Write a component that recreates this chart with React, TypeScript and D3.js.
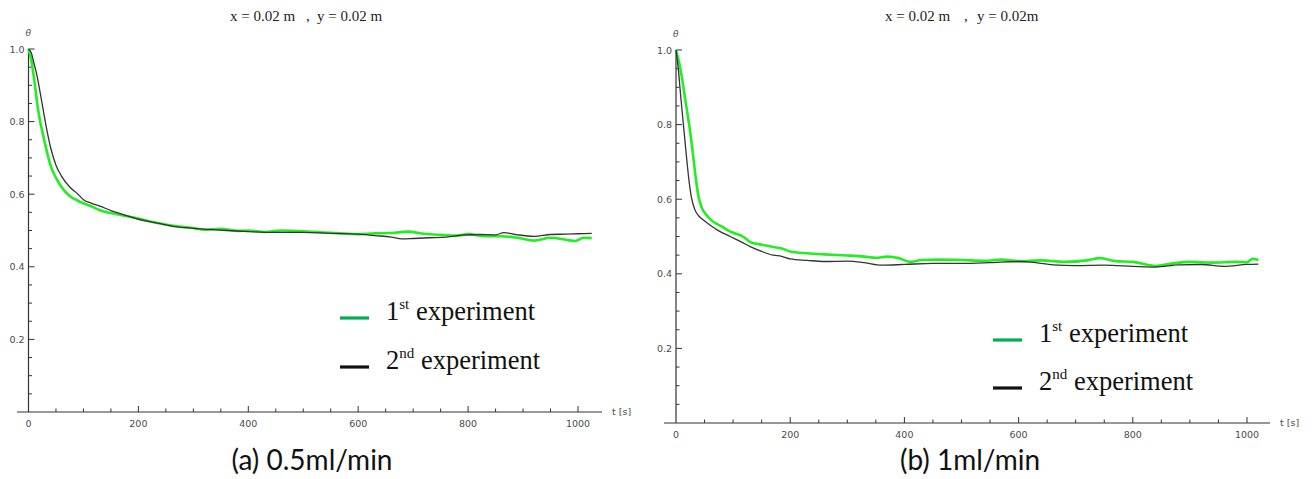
import React, { useEffect, useRef } from "react";
import * as d3 from "d3";

// time samples [s] and dimensionless temperature θ
const leftT1 = [0, 5, 10, 15, 20, 27, 33, 40, 50, 60, 75, 90, 100, 115, 130, 150, 170, 200, 230, 260, 300, 320, 350, 380, 400, 430, 460, 500, 530, 560, 600, 630, 660, 690, 720, 750, 780, 800, 830, 860, 890, 920, 950, 980, 995, 1010, 1025];
const leftV1 = [1.0, 0.97, 0.92, 0.86, 0.81, 0.76, 0.72, 0.68, 0.645, 0.62, 0.595, 0.582, 0.575, 0.566, 0.556, 0.548, 0.542, 0.533, 0.522, 0.514, 0.507, 0.502, 0.505, 0.499, 0.5, 0.496, 0.5, 0.498, 0.495, 0.493, 0.49, 0.492, 0.493, 0.497, 0.491, 0.488, 0.486, 0.49, 0.484, 0.484, 0.48, 0.472, 0.48, 0.474, 0.471, 0.48, 0.479];
const leftT2 = [0, 5, 10, 15, 20, 27, 33, 40, 50, 60, 75, 90, 100, 115, 130, 150, 170, 200, 230, 260, 300, 330, 360, 400, 450, 500, 550, 600, 630, 660, 680, 700, 730, 760, 790, 820, 850, 865, 890, 920, 950, 980, 1000, 1025];
const leftV2 = [1.0, 0.99, 0.96, 0.93, 0.89, 0.83, 0.78, 0.73, 0.68, 0.65, 0.62, 0.6, 0.585, 0.575, 0.567, 0.555, 0.545, 0.531, 0.522, 0.512, 0.506, 0.503, 0.5, 0.497, 0.495, 0.495, 0.492, 0.49, 0.486, 0.482, 0.477, 0.478, 0.48, 0.482, 0.487, 0.489, 0.488, 0.494, 0.488, 0.484, 0.489, 0.49, 0.491, 0.492];

const rightT1 = [0, 5, 10, 15, 20, 24, 29, 34, 39, 45, 52, 60, 70, 80, 90, 100, 117, 130, 150, 170, 185, 200, 230, 260, 300, 330, 350, 370, 390, 410, 430, 460, 500, 540, 570, 600, 640, 680, 720, 742, 770, 800, 840, 870, 900, 940, 980, 1000, 1010, 1020];
const rightV1 = [1.0, 0.97, 0.93, 0.88, 0.83, 0.79, 0.73, 0.665, 0.61, 0.578, 0.56, 0.546, 0.535, 0.527, 0.517, 0.51, 0.5, 0.485, 0.478, 0.472, 0.468, 0.46, 0.455, 0.452, 0.449, 0.446, 0.443, 0.446, 0.442, 0.432, 0.437, 0.438, 0.437, 0.435, 0.438, 0.434, 0.436, 0.432, 0.436, 0.442, 0.434, 0.432, 0.421, 0.428, 0.432, 0.43, 0.432, 0.431, 0.44, 0.437];
const rightT2 = [0, 4, 8, 13, 18, 22, 27, 33, 40, 48, 60, 75, 95, 115, 130, 150, 170, 185, 200, 230, 260, 300, 330, 360, 400, 450, 500, 550, 600, 630, 660, 700, 750, 800, 840, 880, 920, 960, 1000, 1020];
const rightV2 = [1.0, 0.95, 0.88, 0.8, 0.72, 0.66, 0.605, 0.572, 0.555, 0.544, 0.53, 0.515, 0.5, 0.485, 0.473, 0.46, 0.45, 0.447, 0.44, 0.436, 0.433, 0.434, 0.43, 0.423, 0.425, 0.428, 0.428, 0.43, 0.433, 0.43, 0.424, 0.422, 0.423, 0.42, 0.418, 0.424, 0.425, 0.42, 0.425, 0.426];

const xTicks = [0, 200, 400, 600, 800, 1000];
const yTicks = [0.2, 0.4, 0.6, 0.8, 1.0];
const legendLabels = [["1", "st", " experiment"], ["2", "nd", " experiment"]];

const panels = [
  {
    t1: leftT1, v1: leftV1, t2: leftT2, v2: leftV2,
    x0: 28.5, x1: 578, y0: 412, y1: 49, axL: 17, axR: 602,
    title: [["x = 0.02 m", 230], [",", 306], ["y = 0.02 m", 317]],
    legX: 340, legY: [318, 367],
    caption: "(a) 0.5ml/min", capX: 312,
  },
  {
    t1: rightT1, v1: rightV1, t2: rightT2, v2: rightV2,
    x0: 676, x1: 1247, y0: 423, y1: 50, axL: 664, axR: 1270,
    title: [["x = 0.02 m", 885], [",", 964], ["y = 0.02m", 977]],
    legX: 993, legY: [340, 388],
    caption: "(b) 1ml/min", capX: 970,
  },
];

const App = () => {
  const ref = useRef<SVGSVGElement>(null);

  useEffect(() => {
    const svg = d3.select(ref.current);
    svg.selectAll("*").remove();

    panels.forEach((p) => {
      const x = d3.scaleLinear().domain([0, 1000]).range([p.x0, p.x1]);
      const y = d3.scaleLinear().domain([0, 1]).range([p.y0, p.y1]);
      const g = svg.append("g");

      // axes
      g.append("line")
        .attr("x1", p.axL).attr("x2", p.axR)
        .attr("y1", y(0)).attr("y2", y(0))
        .attr("stroke", "#333").attr("stroke-width", 1.2);
      g.append("line")
        .attr("x1", x(0)).attr("x2", x(0))
        .attr("y1", y(0)).attr("y2", y(1))
        .attr("stroke", "#333").attr("stroke-width", 1.2);

      d3.range(50, 1001, 50).forEach((t) => {
        const major = t % 200 === 0;
        g.append("line")
          .attr("x1", x(t)).attr("x2", x(t))
          .attr("y1", y(0)).attr("y2", y(0) - (major ? 6 : 3.5))
          .attr("stroke", "#333").attr("stroke-width", 1);
      });
      d3.range(1, 21).forEach((i) => {
        const major = i % 4 === 0;
        g.append("line")
          .attr("x1", x(0)).attr("x2", x(0) + (major ? 6 : 3.5))
          .attr("y1", y(i * 0.05)).attr("y2", y(i * 0.05))
          .attr("stroke", "#333").attr("stroke-width", 1);
      });

      g.selectAll(".xl").data(xTicks).enter().append("text")
        .attr("x", (d) => x(d)).attr("y", y(0) + 15)
        .attr("text-anchor", "middle")
        .attr("font-family", "DejaVu Sans").attr("font-size", 9.5)
        .attr("fill", "#4a4a4a")
        .text((d) => d);
      g.selectAll(".yl").data(yTicks).enter().append("text")
        .attr("x", x(0) - 4).attr("y", (d) => y(d) + 3.5)
        .attr("text-anchor", "end")
        .attr("font-family", "DejaVu Sans").attr("font-size", 9.5)
        .attr("fill", "#4a4a4a")
        .text((d) => d.toFixed(1));

      g.append("text")
        .attr("x", p.axR + 10).attr("y", y(0) + 3)
        .attr("font-family", "DejaVu Sans").attr("font-size", 9.5)
        .attr("fill", "#4a4a4a").text("t [s]");
      g.append("text")
        .attr("x", x(0) - 3).attr("y", y(1) - 13)
        .attr("font-family", "DejaVu Sans").attr("font-size", 9)
        .attr("font-style", "italic").attr("fill", "#4a4a4a").text("θ");

      p.title.forEach(([s, tx]) => {
        g.append("text")
          .attr("x", tx as number).attr("y", 21)
          .attr("font-family", "Liberation Serif").attr("font-size", 15)
          .attr("fill", "#222").text(s as string);
      });

      const pts = (ts: number[], vs: number[]) =>
        ts.map((t, i) => [x(t), y(vs[i])] as [number, number]);
      const line = d3.line().curve(d3.curveMonotoneX);

      g.append("path")
        .attr("d", line(pts(p.t1, p.v1)))
        .attr("fill", "none").attr("stroke", "#22ee22").attr("stroke-width", 2.6);
      g.append("path")
        .attr("d", line(pts(p.t2, p.v2)))
        .attr("fill", "none").attr("stroke", "#333").attr("stroke-width", 1.3);

      // legend
      ["#00b050", "#111"].forEach((c, i) => {
        g.append("line")
          .attr("x1", p.legX).attr("x2", p.legX + 29)
          .attr("y1", p.legY[i]).attr("y2", p.legY[i])
          .attr("stroke", c).attr("stroke-width", 3.2);
        const tx = g.append("text")
          .attr("x", p.legX + 46).attr("y", p.legY[i] + 2)
          .attr("font-family", "Liberation Serif").attr("font-size", 26.5)
          .attr("fill", "#111");
        tx.append("tspan").text(legendLabels[i][0]);
        tx.append("tspan").attr("font-size", 15).attr("dy", -11).text(legendLabels[i][1]);
        tx.append("tspan").attr("dy", 11).text(legendLabels[i][2]);
      });

      g.append("text")
        .attr("x", p.capX).attr("y", 470)
        .attr("text-anchor", "middle")
        .attr("font-family", "Lato").attr("font-size", 28)
        .attr("fill", "#111").text(p.caption);
    });
  }, []);

  return (
    <svg
      ref={ref}
      width={1312}
      height={479}
      style={{ position: "absolute", left: 0, top: 0, background: "#fff" }}
    />
  );
};

export default App;
